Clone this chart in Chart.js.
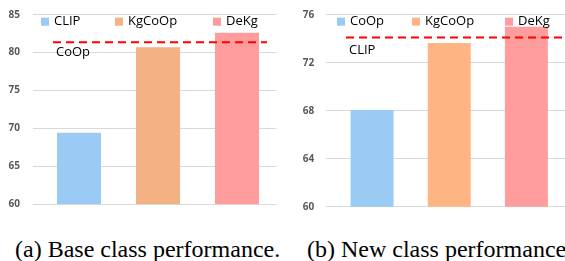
<!DOCTYPE html>
<html>
<head>
<meta charset="utf-8">
<script src="https://cdn.jsdelivr.net/npm/chart.js@4.4.1/dist/chart.umd.min.js"></script>
<style>
  html, body { margin: 0; padding: 0; background: #fff; width: 565px; height: 261px; overflow: hidden; position: relative; }
  #c1 { position: absolute; left: 0; top: -20px; }
  #c2 { position: absolute; left: 282px; top: -20px; }
  .cap { position: absolute; top: 237px; font-family: "Liberation Serif", "Times New Roman", serif; font-size: 24px; line-height: 24px; color: #000; white-space: nowrap; }
</style>
</head>
<body>
<canvas id="c1" width="282" height="250"></canvas>
<canvas id="c2" width="283" height="250"></canvas>
<div class="cap" style="left:15px">(a) Base class performance.</div>
<div class="cap" style="left:307px">(b) New class performance</div>
<script>
// ---- data ----
const baseCategories = ['CLIP', 'KgCoOp', 'DeKg'];
const baseValues = [69.4, 80.7, 82.6];
const baseRefName = 'CoOp';
const baseRefValue = 81.35;
const baseTicks = [60, 65, 70, 75, 80, 85];

const newCategories = ['CoOp', 'KgCoOp', 'DeKg'];
const newValues = [68.05, 73.65, 75.0];
const newRefName = 'CLIP';
const newRefValue = 74.1;
const newTicks = [60, 64, 68, 72, 76];

const baseColors = ['#9ACBF4', '#F4B183', '#FF9D9D'];
const newColors = ['#9ACBF4', '#FFB483', '#FF9D9D'];

// ---- plugin: in-plot legend + dashed reference line ----
const overlay = {
  id: 'overlay',
  afterDatasetsDraw(chart, args, opts) {
    const ctx = chart.ctx;
    const area = chart.chartArea;
    const y = chart.scales.y.getPixelForValue(opts.refValue);
    ctx.save();
    ctx.strokeStyle = '#FF0000';
    ctx.lineWidth = 2;
    ctx.setLineDash([8, 5]);
    ctx.beginPath();
    ctx.moveTo(area.left + opts.lineStart, y);
    ctx.lineTo(area.right - opts.lineEndInset, y);
    ctx.stroke();
    ctx.setLineDash([]);
    ctx.fillStyle = '#000';
    ctx.font = '13px "Open Sans"';
    ctx.textBaseline = 'middle';
    ctx.textAlign = 'left';
    ctx.fillText(opts.refName, area.left + opts.lineStart + 3, y + opts.labelDy);
    const labels = chart.data.labels;
    const colors = chart.data.datasets[0].backgroundColor;
    const ly = area.top + opts.legendDy;
    labels.forEach((lab, i) => {
      const x = opts.legendX[i];
      ctx.fillStyle = colors[i];
      ctx.fillRect(x, ly, 8, 8);
      ctx.fillStyle = '#000';
      ctx.fillText(lab, x + 13, ly + 4);
    });
    ctx.restore();
  }
};

function makeChart(id, labels, values, colors, ticks, refName, refValue, cfg) {
  return new Chart(document.getElementById(id), {
    type: 'bar',
    data: {
      labels: labels,
      datasets: [{ data: values, backgroundColor: colors, borderWidth: 0,
        categoryPercentage: 1, barPercentage: cfg.barPct }]
    },
    options: {
      responsive: false,
      animation: false,
      layout: { padding: cfg.padding },
      plugins: {
        legend: { display: false },
        tooltip: { enabled: false },
        overlay: Object.assign({ refName: refName, refValue: refValue }, cfg.overlay)
      },
      scales: {
        x: { display: false },
        y: {
          min: ticks[0], max: ticks[ticks.length - 1],
          afterBuildTicks: (s) => { s.ticks = ticks.map(v => ({ value: v })); },
          afterFit: (s) => { s.width = cfg.axisWidth; },
          border: { display: false },
          grid: { color: '#D9D9D9', lineWidth: 1, drawTicks: true, tickLength: cfg.tickLength, tickColor: '#D9D9D9' },
          ticks: { color: '#595959', padding: cfg.tickPad, font: { family: 'Open Sans', size: 10, weight: 'bold' } }
        }
      }
    },
    plugins: [overlay]
  });
}

makeChart('c1', baseCategories, baseValues, baseColors, baseTicks, baseRefName, baseRefValue, {
  barPct: 0.557,
  padding: { top: 34.7, bottom: 26, left: 0, right: 5.5 },
  axisWidth: 39.5,
  tickLength: 6.5,
  tickPad: 13,
  overlay: { lineStart: 13.5, lineEndInset: 9.5, labelDy: 10, legendX: [41, 115, 213], legendDy: 3 }
});

makeChart('c2', newCategories, newValues, newColors, newTicks, newRefName, newRefValue, {
  barPct: 0.557,
  padding: { top: 34.7, bottom: 23.3, left: 0, right: 0 },
  axisWidth: 51.5,
  tickLength: 7.5,
  tickPad: 11.7,
  overlay: { lineStart: 12.5, lineEndInset: 0, labelDy: 12.7, legendX: [55, 130, 223], legendDy: 3 }
});
</script>
</body>
</html>
